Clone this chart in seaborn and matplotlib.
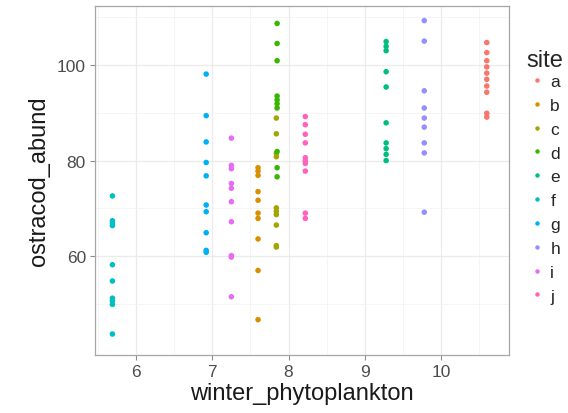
import matplotlib
matplotlib.use("Agg")
import matplotlib.pyplot as plt
import seaborn as sns
import pandas as pd
from matplotlib.ticker import FixedLocator

# one x value (winter_phytoplankton) per site, several ostracod counts each
sites = ['a', 'b', 'c', 'd', 'e', 'f', 'g', 'h', 'i', 'j']
site_x = [10.60, 7.60, 7.84, 7.85, 9.28, 5.69, 6.92, 9.78, 7.25, 8.22]
a_y = [104.7, 102.6, 100.9, 99.6, 98.3, 97.0, 95.6, 94.3, 89.9, 89.1]
b_y = [78.5, 77.8, 76.9, 73.5, 71.7, 69.0, 67.9, 63.6, 57.0, 46.7]
c_y = [88.9, 85.6, 81.5, 80.8, 70.1, 69.4, 68.7, 66.5, 62.2, 61.9]
d_y = [108.7, 104.5, 100.9, 93.5, 92.7, 91.9, 91.0, 81.9, 78.5, 76.6]
e_y = [104.9, 103.9, 103.0, 98.6, 95.4, 87.9, 83.7, 82.5, 81.3, 80.0]
f_y = [72.6, 67.4, 66.9, 66.4, 58.2, 54.8, 51.2, 50.6, 49.9, 43.7]
g_y = [98.1, 89.4, 83.9, 79.6, 76.8, 70.7, 69.3, 64.9, 61.2, 60.8]
h_y = [109.3, 105.0, 94.6, 91.0, 88.9, 87.0, 83.7, 81.6, 69.2]
i_y = [84.7, 79.0, 78.3, 75.2, 74.2, 71.4, 67.2, 60.1, 59.8, 51.5]
j_y = [89.2, 87.5, 85.5, 83.7, 80.6, 80.0, 79.4, 77.8, 69.0, 67.9]
site_y = [a_y, b_y, c_y, d_y, e_y, f_y, g_y, h_y, i_y, j_y]

x_ticks = [6, 7, 8, 9, 10]
y_ticks = [60, 80, 100]

site_colors = ["#F8766D", "#D89000", "#A3A500", "#39B600", "#00BF7D",
               "#00BFC4", "#00B0F6", "#9590FF", "#E76BF3", "#FF62BC"]

rows = []
for s, x, ys in zip(sites, site_x, site_y):
    for y in ys:
        rows.append({'site': s, 'winter_phytoplankton': x, 'ostracod_abund': y})
df = pd.DataFrame(rows)

sns.set_style("white")
plt.rcParams['font.family'] = ['Liberation Sans', 'DejaVu Sans']

fig = plt.figure(figsize=(5.68, 4.14), dpi=100)
ax = fig.add_axes([0.1673, 0.14, 0.7289, 0.8431])

sns.scatterplot(data=df, x='winter_phytoplankton', y='ostracod_abund', hue='site',
                hue_order=sites, palette=site_colors, s=16, linewidth=0, ax=ax)

ax.set_xlim(5.462, 10.892)
ax.set_ylim(39.3, 112.35)
ax.xaxis.set_major_locator(FixedLocator(x_ticks))
ax.xaxis.set_minor_locator(FixedLocator([t + 0.5 for t in [5] + x_ticks]))
ax.yaxis.set_major_locator(FixedLocator(y_ticks))
ax.yaxis.set_minor_locator(FixedLocator([50, 70, 90, 110]))
ax.grid(which='major', color='#EBEBEB', linewidth=0.9)
ax.grid(which='minor', color='#F2F2F2', linewidth=0.5)
ax.set_axisbelow(True)
for sp in ax.spines.values():
    sp.set_color('#A6A6A6')
    sp.set_linewidth(0.9)
ax.tick_params(which='major', length=3.5, width=0.8, color='#8C8C8C',
               labelsize=12.5, labelcolor='#4D4D4D', pad=3, bottom=True, left=True)
ax.tick_params(which='minor', length=0)
ax.set_xlabel('winter_phytoplankton', fontsize=17, color='#1A1A1A', labelpad=2)
ax.set_ylabel('ostracod_abund', fontsize=17, color='#1A1A1A', labelpad=5)

leg = ax.legend(title='site', loc='center left', bbox_to_anchor=(1.043, 0.512),
                frameon=False, fontsize=12.5, title_fontsize=17, markerscale=0.8,
                labelspacing=0.5, handlelength=1.2, handletextpad=0.15,
                borderpad=0, borderaxespad=0)
leg._legend_box.align = 'left'
leg._legend_box.sep = 2

fig.savefig('out.png', dpi=100)
